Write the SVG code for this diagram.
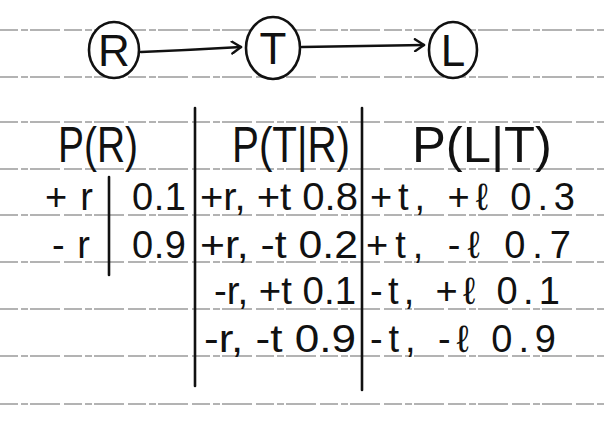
<svg xmlns="http://www.w3.org/2000/svg" width="606" height="430" viewBox="0 0 606 430">
<style>
.rule{stroke:#9a9a9a;stroke-width:1.3;stroke-dasharray:18 3 7 2 30 4;fill:none}
.ink{stroke:#111;stroke-width:2.6;fill:none;stroke-linecap:round}
.node{stroke:#111;stroke-width:2.6;fill:#fff}
.lbl{font-family:"Liberation Sans",Arial,sans-serif;font-size:44px;fill:#111;text-anchor:middle}
.hd{font-family:"Liberation Sans",Arial,sans-serif;font-size:50px;fill:#111;font-weight:normal}
.tx{font-family:"Liberation Sans",Arial,sans-serif;font-size:38px;fill:#111}
</style>
<defs>
<marker id="arr" markerWidth="14" markerHeight="14" refX="11" refY="7" orient="auto" markerUnits="userSpaceOnUse">
<path d="M2,1 L11,7 L2,13" fill="none" stroke="#111" stroke-width="2.4" stroke-linecap="round" stroke-linejoin="round"/>
</marker>
</defs>
<rect width="606" height="430" fill="#fff"/>
<g id="rules">
<line class="rule" x1="0" y1="30" x2="606" y2="30"/>
<line class="rule" x1="0" y1="77" x2="606" y2="77"/>
<line class="rule" x1="0" y1="122" x2="606" y2="122"/>
<line class="rule" x1="0" y1="169" x2="606" y2="169"/>
<line class="rule" x1="0" y1="215" x2="606" y2="215"/>
<line class="rule" x1="0" y1="262" x2="606" y2="262"/>
<line class="rule" x1="0" y1="309" x2="606" y2="309"/>
<line class="rule" x1="0" y1="356" x2="606" y2="356"/>
<line class="rule" x1="0" y1="404" x2="606" y2="404"/>
</g>
<g id="connectors">
<path class="ink" d="M141,52 Q190,50 241,47" marker-end="url(#arr)"/>
<path class="ink" d="M302,47 Q360,46 424,45" marker-end="url(#arr)"/>
</g>
<g id="node-R">
<ellipse class="node" cx="114" cy="50" rx="25" ry="28"/>
<text class="lbl" x="114" y="66">R</text>
</g>
<g id="node-T">
<ellipse class="node" cx="273" cy="48" rx="27" ry="31"/>
<text class="lbl" x="273" y="64">T</text>
</g>
<g id="node-L">
<ellipse class="node" cx="453" cy="50" rx="24" ry="28"/>
<text class="lbl" x="453" y="66">L</text>
</g>
<g id="tables">
<line class="ink" x1="195" y1="108" x2="195" y2="386"/>
<line class="ink" x1="362" y1="108" x2="362" y2="390"/>
<line class="ink" x1="109" y1="177" x2="109" y2="275"/>
<text class="hd" x="58" y="162" textLength="80" lengthAdjust="spacingAndGlyphs">P(R)</text>
<text class="hd" x="232" y="162" textLength="118" lengthAdjust="spacingAndGlyphs">P(T|R)</text>
<text class="hd" x="412" y="162" textLength="140" lengthAdjust="spacingAndGlyphs">P(L|T)</text>
<text class="tx" x="45" y="210" textLength="48" lengthAdjust="spacing">+r</text>
<text class="tx" x="132" y="210" textLength="54" lengthAdjust="spacing">0.1</text>
<text class="tx" x="200" y="210" textLength="158" lengthAdjust="spacingAndGlyphs">+r, +t 0.8</text>
<text class="tx" x="370" y="210" textLength="205" lengthAdjust="spacing">+t, +ℓ  0.3</text>
<text class="tx" x="52" y="258" textLength="38" lengthAdjust="spacing">-r</text>
<text class="tx" x="132" y="258" textLength="54" lengthAdjust="spacing">0.9</text>
<text class="tx" x="200" y="258" textLength="158" lengthAdjust="spacingAndGlyphs">+r, -t 0.2</text>
<text class="tx" x="366" y="258" textLength="205" lengthAdjust="spacing">+t, -ℓ  0.7</text>
<text class="tx" x="214" y="304" textLength="142" lengthAdjust="spacingAndGlyphs">-r, +t 0.1</text>
<text class="tx" x="370" y="304" textLength="190" lengthAdjust="spacing">-t, +ℓ  0.1</text>
<text class="tx" x="204" y="352" textLength="152" lengthAdjust="spacingAndGlyphs">-r, -t 0.9</text>
<text class="tx" x="370" y="352" textLength="186" lengthAdjust="spacing">-t, -ℓ  0.9</text>
</g>
</svg>
